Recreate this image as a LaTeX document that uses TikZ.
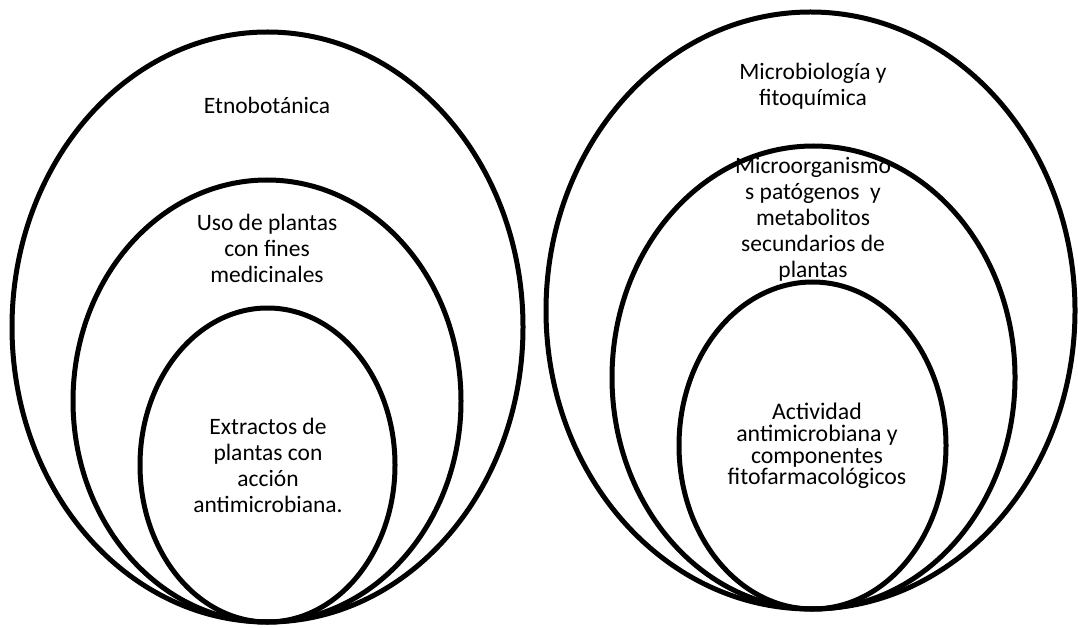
\documentclass[tikz,border=0pt]{standalone}
\usepackage{fontspec}
\setmainfont{Carlito}
\usepackage{tikz}
\usetikzlibrary{positioning}

\tikzset{
	ring/.style={black, line width=5pt},
	lbl/.style={align=center, inner sep=0pt, font=\fontsize{23.5}{26}\selectfont},
	lblsmall/.style={align=center, inner sep=0pt, font=\fontsize{23.8}{21.7}\selectfont}
}

\begin{document}
\begin{tikzpicture}[x=1pt,y=-1pt]
		\useasboundingbox (0,0) rectangle (1078,628);
		
		% left circles
		\draw[ring] (267.5,327) ellipse [x radius=255.5pt, y radius=295pt];
		\draw[ring] (267,401) ellipse [x radius=194pt, y radius=221pt];
		\draw[ring] (267.5,465) ellipse [x radius=127.5pt, y radius=157pt];
		
		\node[lbl] (etno) at (267,105) {Etnobotánica};
		\node[lbl] (uso) at (267,248) {Uso de plantas\\con fines\\medicinales};
		\node[lbl] (extr) at (268,465) {Extractos de\\plantas con\\acción\\antimicrobiana.};
		
		% right circles
		\draw[ring] (810.5,310.5) ellipse [x radius=264.5pt, y radius=298.5pt];
		\draw[ring] (813.5,377.5) ellipse [x radius=201.5pt, y radius=231.5pt];
		\draw[ring] (812.5,445.5) ellipse [x radius=133.5pt, y radius=163.5pt];
		
		\node[lbl] (micro) at (813,86) {Microbiología y\\fitoquímica};
		\node[lbl] (pato) at (813,219) {Microorganismo\\s patógenos\ \ y\\metabolitos\\secundarios de\\plantas};
		\node[lblsmall] (activ) at (817,446) {Actividad\\antimicrobiana y\\componentes\\fitofarmacológicos};
\end{tikzpicture}
\end{document}
